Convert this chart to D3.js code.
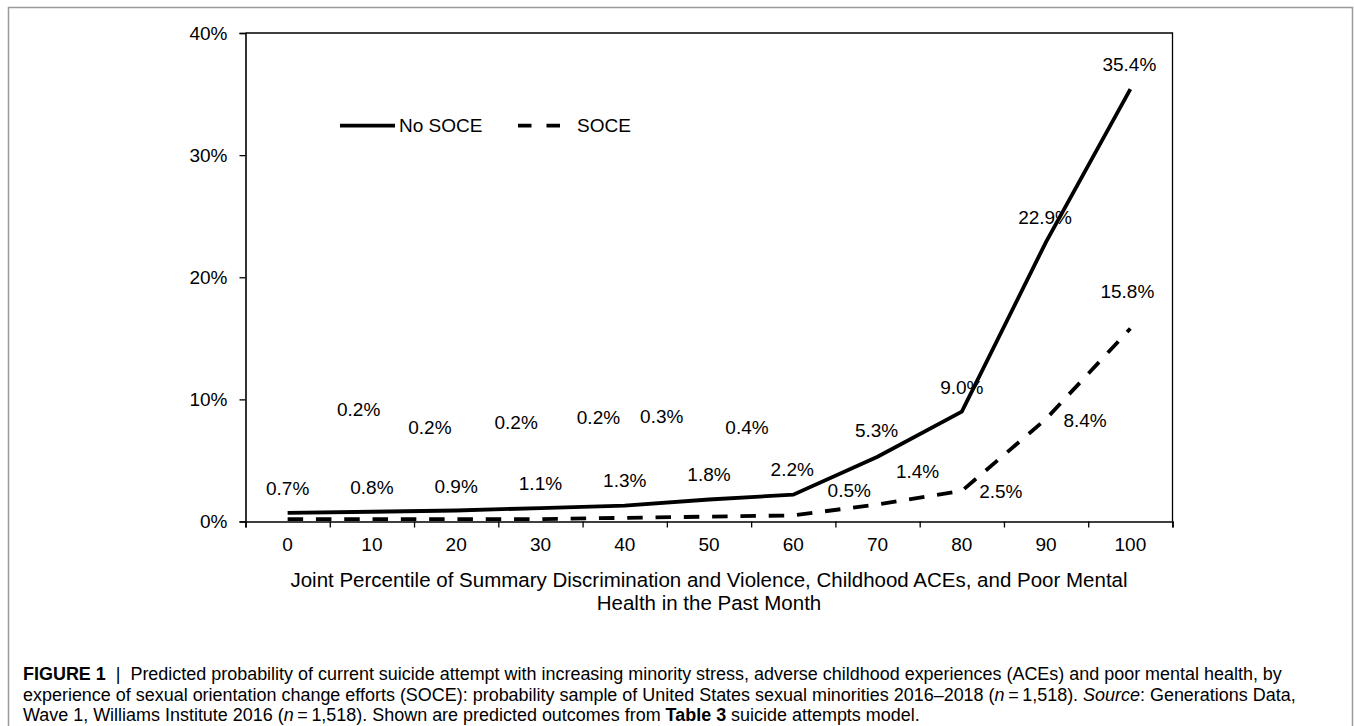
<!DOCTYPE html>
<html>
<head>
<meta charset="utf-8">
<script src="https://cdn.jsdelivr.net/npm/d3@7"></script>
<style>
  body { margin: 0; background: #fff; }
  text { font-family: "Liberation Sans", Arial, sans-serif; fill: #000; }
</style>
</head>
<body>
<script>
// chart data
var percentiles = ["0", "10", "20", "30", "40", "50", "60", "70", "80", "90", "100"];
var noSoce = [0.7, 0.8, 0.9, 1.1, 1.3, 1.8, 2.2, 5.3, 9.0, 22.9, 35.4];
var soce = [0.2, 0.2, 0.2, 0.2, 0.3, 0.4, 0.5, 1.4, 2.5, 8.4, 15.8];
var yTicks = [0, 10, 20, 30, 40];

// hand-moved data labels in the original (pixel nudges from each point)
var noSoceNudge = [[0, -25], [0, -24], [0, -24], [0, -25], [0, -25], [0, -25], [-1, -25], [-1, -26], [0, -24], [-1, -24], [-1, -25]];
var soceNudge = [[71, -110], [58, -92], [60, -97], [58, -102], [37, -101], [38, -89], [56, -25], [40, -33], [39, 0], [39, 1], [-3, -37]];

var W = 1354, H = 726;
var svg = d3.select("body").append("svg")
    .attr("width", W)
    .attr("height", H);

// figure frame
svg.append("rect")
    .attr("x", 8.5).attr("y", 7.5)
    .attr("width", 1344).attr("height", 740)
    .attr("fill", "none")
    .attr("stroke", "#9a9a9a")
    .attr("stroke-width", 1.5);

var plot = {left: 245.5, right: 1172.5, top: 33, bottom: 521.5};

var x = d3.scaleBand()
    .domain(percentiles)
    .range([plot.left, plot.right]);
var xEdge = d3.scaleLinear()
    .domain([0, percentiles.length])
    .range([plot.left, plot.right]);
var y = d3.scaleLinear()
    .domain([0, 40])
    .range([plot.bottom, plot.top]);

var cx = function(d, i) { return x(percentiles[i]) + x.bandwidth() / 2; };

// plot frame top + right
svg.append("path")
    .attr("d", "M" + plot.left + "," + plot.top + "H" + plot.right + "V" + plot.bottom)
    .attr("fill", "none")
    .attr("stroke", "#000")
    .attr("stroke-width", 1.3);

// y axis
var yAxis = svg.append("g")
    .attr("transform", "translate(" + plot.left + ",0)")
    .call(d3.axisLeft(y).tickValues(yTicks).tickSize(6).tickPadding(12)
      .tickFormat(function(d) { return d + "%"; }));
yAxis.select(".domain").attr("stroke-width", 1.6);
yAxis.selectAll("line").attr("stroke-width", 1.3);
yAxis.selectAll("text").attr("font-size", 19).attr("font-family", null);

// x axis: ticks between categories, labels centred in them
var xTicksG = svg.append("g")
    .attr("transform", "translate(0," + plot.bottom + ")")
    .call(d3.axisBottom(xEdge).ticks(percentiles.length).tickSize(6).tickFormat(""));
xTicksG.select(".domain").attr("stroke-width", 1.6);
xTicksG.selectAll("line").attr("stroke-width", 1.3);

var xLabels = svg.append("g")
    .attr("transform", "translate(0," + plot.bottom + ")")
    .call(d3.axisBottom(x).tickSize(0).tickPadding(16));
xLabels.select(".domain").remove();
xLabels.selectAll("text").attr("font-size", 19).attr("font-family", null);

// x axis title
var xTitle = svg.append("text")
    .attr("text-anchor", "middle")
    .attr("font-size", 20.5);
xTitle.append("tspan").attr("x", 709).attr("y", 580).attr("dy", "0.35em")
    .text("Joint Percentile of Summary Discrimination and Violence, Childhood ACEs, and Poor Mental");
xTitle.append("tspan").attr("x", 709).attr("y", 602.5).attr("dy", "0.35em")
    .text("Health in the Past Month");

// lines
var line = d3.line()
    .x(cx)
    .y(function(d) { return y(d); });

svg.append("path")
    .datum(noSoce)
    .attr("d", line)
    .attr("fill", "none")
    .attr("stroke", "#000")
    .attr("stroke-width", 3.8);

svg.append("path")
    .datum(soce)
    .attr("d", line)
    .attr("fill", "none")
    .attr("stroke", "#000")
    .attr("stroke-width", 3.8)
    .attr("stroke-dasharray", "15.5,12.8");

// data labels
svg.append("g").selectAll("text")
    .data(noSoce)
  .enter().append("text")
    .attr("x", function(d, i) { return cx(d, i) + noSoceNudge[i][0]; })
    .attr("y", function(d, i) { return y(d) + noSoceNudge[i][1]; })
    .attr("dy", "0.35em")
    .attr("text-anchor", "middle")
    .attr("font-size", 19)
    .text(function(d) { return d.toFixed(1) + "%"; });

svg.append("g").selectAll("text")
    .data(soce)
  .enter().append("text")
    .attr("x", function(d, i) { return cx(d, i) + soceNudge[i][0]; })
    .attr("y", function(d, i) { return y(d) + soceNudge[i][1]; })
    .attr("dy", "0.35em")
    .attr("text-anchor", "middle")
    .attr("font-size", 19)
    .text(function(d) { return d.toFixed(1) + "%"; });

// legend
var legend = svg.append("g");
legend.append("line")
    .attr("x1", 340).attr("x2", 395).attr("y1", 125.7).attr("y2", 125.7)
    .attr("stroke", "#000").attr("stroke-width", 3.8);
legend.append("text")
    .attr("x", 399).attr("y", 125.7).attr("dy", "0.35em")
    .attr("font-size", 19)
    .text("No SOCE");
legend.append("line")
    .attr("x1", 518).attr("x2", 561).attr("y1", 125.7).attr("y2", 125.7)
    .attr("stroke", "#000").attr("stroke-width", 3.8)
    .attr("stroke-dasharray", "13.5,15");
legend.append("text")
    .attr("x", 577).attr("y", 125.7).attr("dy", "0.35em")
    .attr("font-size", 19)
    .text("SOCE");

// caption
var caption = [
  [["FIGURE 1", "b"], ["  |  Predicted probability of current suicide attempt with increasing minority stress, adverse childhood experiences (ACEs) and poor mental health, by", ""]],
  [["experience of sexual orientation change efforts (SOCE): probability sample of United States sexual minorities 2016\u20132018 (", ""], ["n", "i"], ["\u2009=\u20091,518). ", ""], ["Source", "i"], [": Generations Data,", ""]],
  [["Wave 1, Williams Institute 2016 (", ""], ["n", "i"], ["\u2009=\u20091,518). Shown are predicted outcomes from ", ""], ["Table 3", "b"], [" suicide attempts model.", ""]]
];
var capY = [674, 694.5, 714.5];

var capG = svg.append("g").attr("transform", "translate(23,0)");
var capLines = caption.map(function(parts, li) {
  var t = capG.append("text")
      .attr("x", 0).attr("y", capY[li]).attr("dy", "0.35em")
      .attr("font-size", 18.5)
      .attr("fill", "#111")
      .style("white-space", "pre");
  parts.forEach(function(p) {
    t.append("tspan")
        .attr("font-weight", p[1] == "b" ? "bold" : null)
        .attr("font-style", p[1] == "i" ? "italic" : null)
        .text(p[0]);
  });
  return t;
});
// condensed face in the original: squeeze horizontally to fit
var k = 1260 / capLines[0].node().getComputedTextLength();
capG.attr("transform", "translate(23,0) scale(" + k + ",1)");
</script>
</body>
</html>
